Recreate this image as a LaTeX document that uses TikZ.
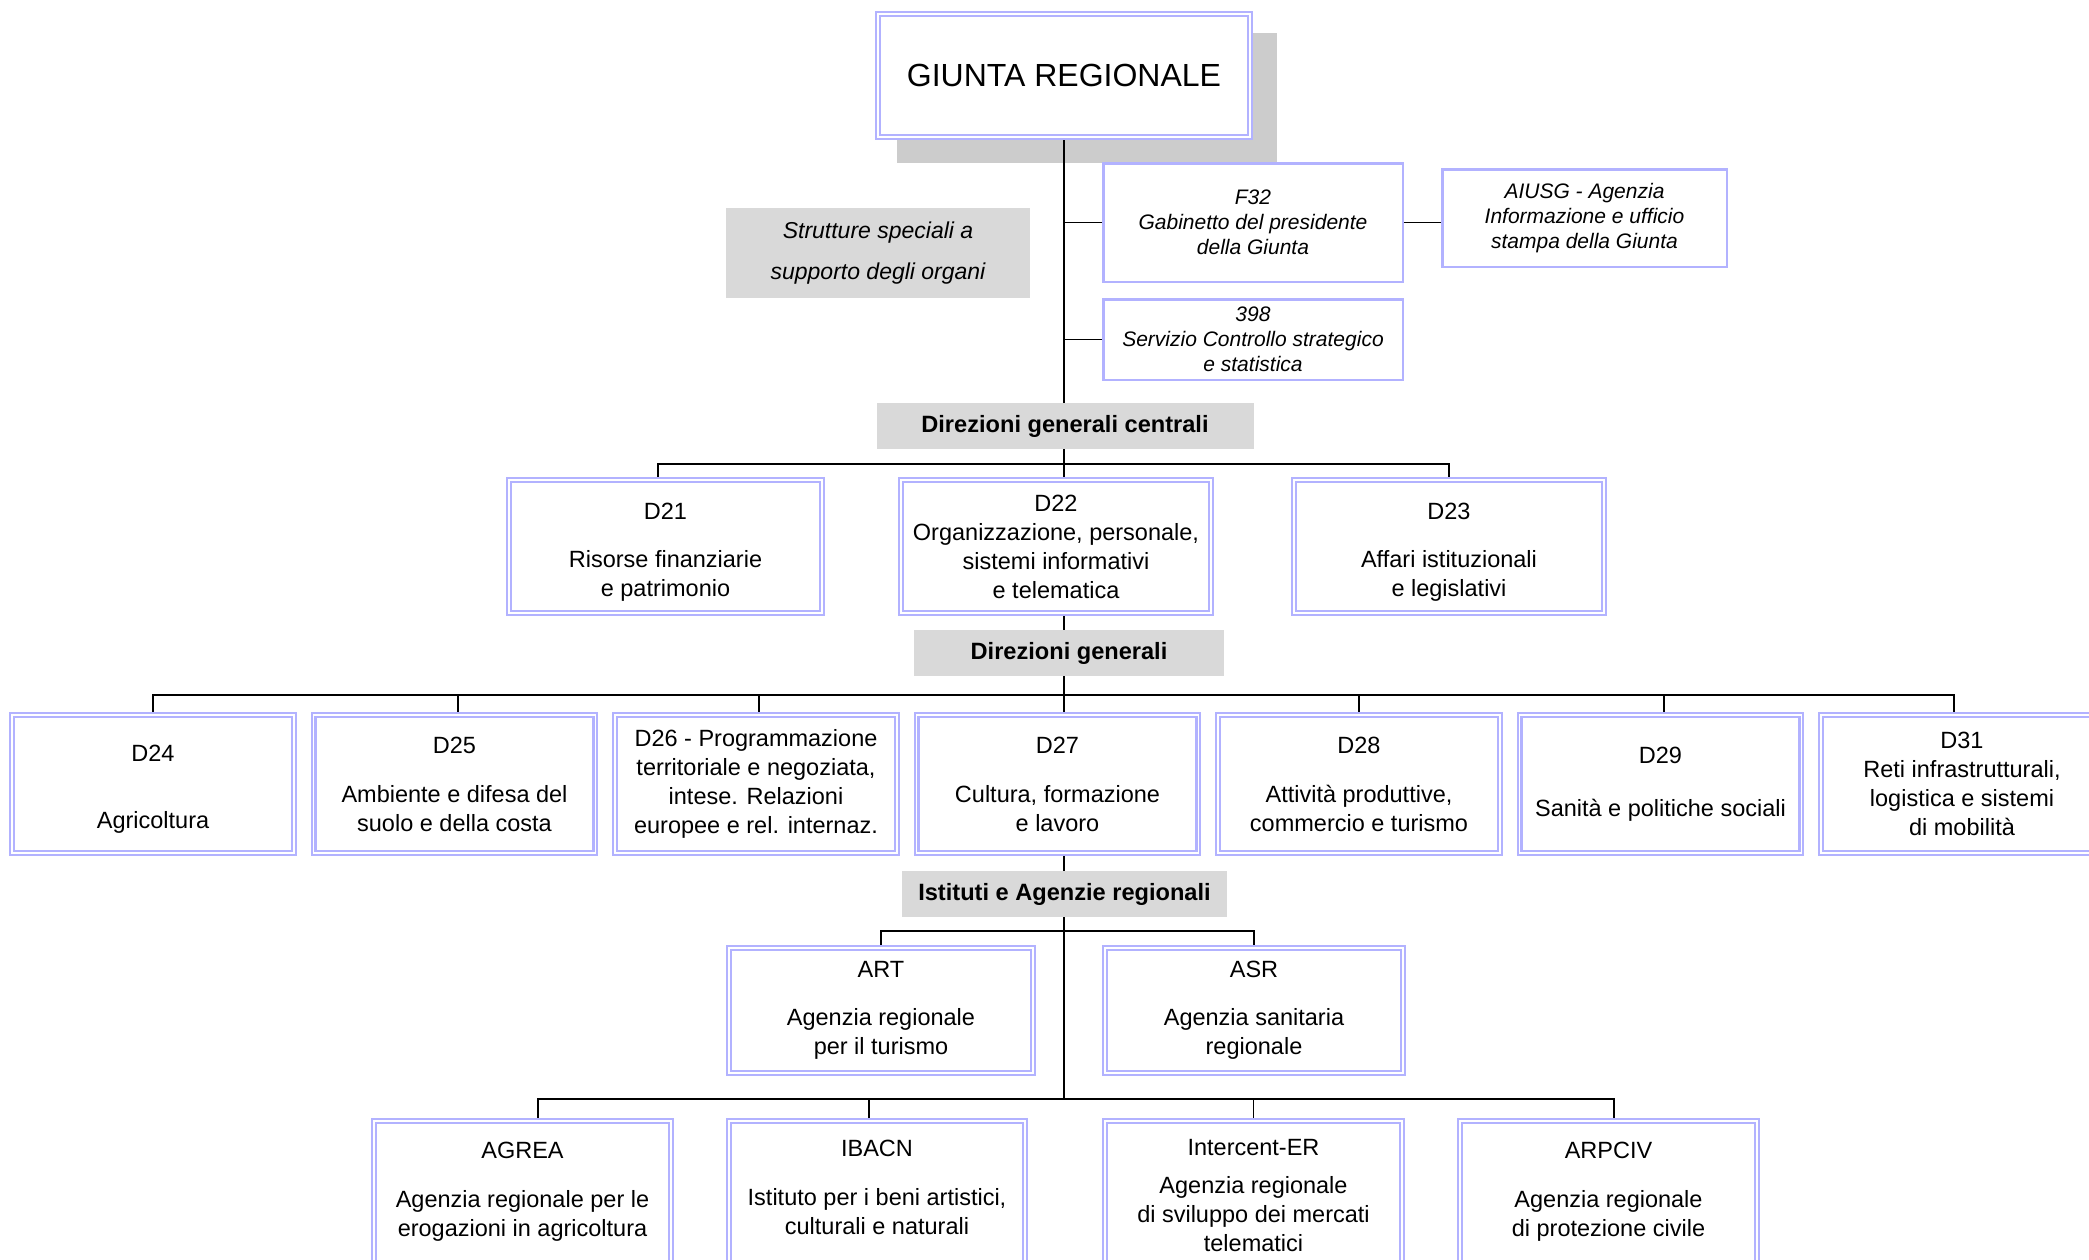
\documentclass[tikz,border=0pt]{standalone}
\usepackage{fontspec}
\setmainfont{Liberation Sans}
\usetikzlibrary{backgrounds}
\definecolor{lav}{RGB}{178,178,255}
\definecolor{grayfill}{RGB}{217,217,217}
\definecolor{shadowgray}{RGB}{204,204,204}
\tikzset{
  dbox/.style={draw=lav, double=white, line width=2.2pt, double distance=1.6pt, fill=white,
    align=center, inner sep=0pt, font=\fontsize{23.5}{29}\selectfont},
  sbox/.style={draw=lav, line width=2.5pt, fill=white, align=center, inner sep=0pt,
    font=\fontsize{21}{25}\selectfont\itshape},
  glabel/.style={fill=grayfill, align=center, inner sep=0pt,
    font=\bfseries\fontsize{23.6}{28}\selectfont},
  conn/.style={draw=black, line width=1.6pt},
}
\newcommand\upstrut{\rule{0pt}{27pt}}
\begin{document}
\begin{tikzpicture}[x=1pt,y=-1pt]
\useasboundingbox (0,0) rectangle (2089,1259);
% top
\node[dbox, minimum width=371.8pt, minimum height=122.8pt] (giunta) at (1064,75.5)
  {\fontsize{32}{38}\selectfont GIUNTA REGIONALE};
\node[glabel, minimum width=304pt, minimum height=90pt,
  font=\itshape\fontsize{23}{41}\selectfont] (strut) at (878,253)
  {Strutture speciali a\\supporto degli organi};
\node[sbox, minimum width=299.5pt, minimum height=118.5pt] (f32) at (1253,222.5)
  {F32\\Gabinetto del presidente\\della Giunta};
\node[sbox, minimum width=284.5pt, minimum height=97.5pt] (aiusg) at (1584.5,218)
  {AIUSG - Agenzia\\Informazione e ufficio\\stampa della Giunta};
\node[sbox, minimum width=299.5pt, minimum height=80.5pt] (s398) at (1253,339.5)
  {398\\Servizio Controllo strategico\\e statistica};
% central directorates
\node[glabel, minimum width=377pt, minimum height=46pt] (dgc) at (1065,426) {Direzioni generali centrali};
\node[dbox, minimum width=312.8pt, minimum height=132.8pt] (d21) at (665.5,546.5)
  {\upstrut D21\\[19pt]Risorse finanziarie\\e patrimonio};
\node[dbox, minimum width=309.8pt, minimum height=132.8pt] (d22) at (1056,546.5)
  {D22\\Organizzazione, personale,\\sistemi informativi\\e telematica};
\node[dbox, minimum width=309.8pt, minimum height=132.8pt] (d23) at (1449,546.5)
  {\upstrut D23\\[19pt]Affari istituzionali\\e legislativi};
% general directorates
\node[glabel, minimum width=310pt, minimum height=46pt] (dg) at (1069,653) {Direzioni generali};
\node[dbox, minimum width=281.8pt, minimum height=137.8pt] (d24) at (153,784)
  {\upstrut D24\\[37.7pt]Agricoltura};
\node[dbox, minimum width=281.8pt, minimum height=137.8pt] (d25) at (454.5,784)
  {D25\\[20pt]Ambiente e difesa del\\suolo e della costa};
\node[dbox, minimum width=281.8pt, minimum height=137.8pt] (d26) at (756,784)
  {D26 - Programmazione\\territoriale e negoziata,\\intese. Relazioni\\europee e rel. internaz.};
\node[dbox, minimum width=281.8pt, minimum height=137.8pt] (d27) at (1057.5,784)
  {D27\\[20pt]Cultura, formazione\\e lavoro};
\node[dbox, minimum width=281.8pt, minimum height=137.8pt] (d28) at (1359,784)
  {D28\\[20pt]Attività produttive,\\commercio e turismo};
\node[dbox, minimum width=281.8pt, minimum height=137.8pt] (d29) at (1660.5,784)
  {D29\\[24pt]Sanità e politiche sociali};
\node[dbox, minimum width=281.8pt, minimum height=137.8pt] (d31) at (1962,784)
  {D31\\Reti infrastrutturali,\\logistica e sistemi\\di mobilità};
% institutes and agencies
\node[glabel, minimum width=325pt, minimum height=46pt] (ist) at (1064.5,894) {Istituti e Agenzie regionali};
\node[dbox, minimum width=303.8pt, minimum height=124.8pt] (art) at (881,1010.5)
  {ART\\[19pt]Agenzia regionale\\per il turismo};
\node[dbox, minimum width=297.8pt, minimum height=124.8pt] (asr) at (1254,1010.5)
  {ASR\\[19pt]Agenzia sanitaria\\regionale};
\node[dbox, minimum width=296.8pt, minimum height=141.8pt] (agrea) at (522.5,1192)
  {AGREA\\[20pt]Agenzia regionale per le\\erogazioni in agricoltura};
\node[dbox, minimum width=295.8pt, minimum height=141.8pt] (ibacn) at (877,1192)
  {IBACN\\[20pt]Istituto per i beni artistici,\\culturali e naturali\strut};
\node[dbox, minimum width=296.8pt, minimum height=149.8pt] (intercent) at (1253.5,1196)
  {Intercent-ER\\[9pt]Agenzia regionale\\di sviluppo dei mercati\\telematici};
\node[dbox, minimum width=296.8pt, minimum height=141.8pt] (arpciv) at (1608.5,1192)
  {ARPCIV\\[20pt]Agenzia regionale\\di protezione civile};
% coordinates
\coordinate (tx) at (1064,0);
\coordinate (bus1) at (1064,464);
\coordinate (bus2) at (1064,695);
\coordinate (bus3) at (1064,931);
\coordinate (bus4) at (1064,1099);
\begin{pgfonlayer}{background}
  \fill[shadowgray] (897,33) rectangle (1277,163);
  \draw[conn] (giunta.south -| tx) -- (bus4);
  \draw[conn] (tx |- f32.west) -- (f32.west);
  \draw[conn] (tx |- s398.west) -- (s398.west);
  \draw[conn] (f32.east) -- (f32.east -| aiusg.west);
  \draw[conn] ([xshift=-7.5pt]d21.north) |- (bus1) -| (d23.north);
  \draw[conn] ([xshift=-8pt]d31.north) |- (bus2) -| (d24.north);
  \draw[conn] ([xshift=3.5pt]d25.north) -- ([xshift=3.5pt]d25.north |- bus2);
  \draw[conn] ([xshift=3pt]d26.north) -- ([xshift=3pt]d26.north |- bus2);
  \draw[conn] (d28.north) -- (d28.north |- bus2);
  \draw[conn] ([xshift=3.5pt]d29.north) -- ([xshift=3.5pt]d29.north |- bus2);
  \draw[conn] (art.north) |- (bus3) -| (asr.north);
  \draw[conn] ([xshift=15.5pt]agrea.north) |- (bus4) -| ([xshift=5.5pt]arpciv.north);
  \draw[conn] ([xshift=-8pt]ibacn.north) -- ([xshift=-8pt]ibacn.north |- bus4);
  \draw[conn] (intercent.north) -- (intercent.north |- bus4);
\end{pgfonlayer}
\end{tikzpicture}
\end{document}
